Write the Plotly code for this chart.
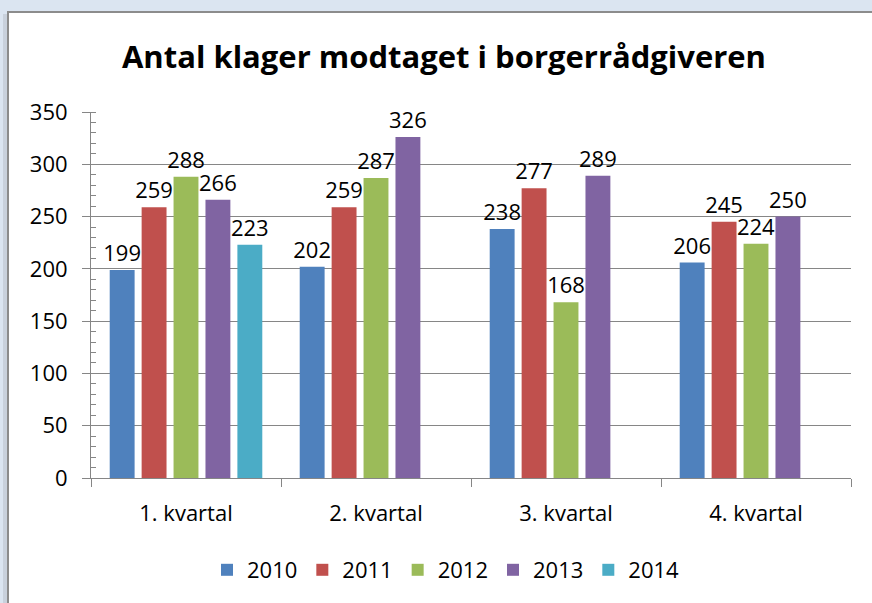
import plotly.graph_objects as go

categories = ["1. kvartal", "2. kvartal", "3. kvartal", "4. kvartal"]
years = ["2010", "2011", "2012", "2013", "2014"]
v2010 = [199, 202, 238, 206]
v2011 = [259, 259, 277, 245]
v2012 = [288, 287, 168, 224]
v2013 = [266, 326, 289, 250]
v2014 = [223, None, None, None]
colors = ["#4f81bd", "#c0504d", "#9bbb59", "#8064a2", "#4bacc6"]

series = [v2010, v2011, v2012, v2013, v2014]
FONT = "Open Sans, sans-serif"

fig = go.Figure()
for name, vals, col in zip(years, series, colors):
    fig.add_trace(go.Bar(
        x=categories, y=vals, name=name, marker=dict(color=col, line=dict(width=0)),
        text=[("" if v is None else str(v)) for v in vals], textposition="outside",
        constraintext="none",
        textfont=dict(size=22, color="black", family=FONT), cliponaxis=False,
    ))

L, R, T, B = 91, 21, 112, 125
W, H = 872, 603
pw, ph = W - L - R, H - T - B

def px(x):
    return (x - L) / pw

def py(y):
    return (H - B - y) / ph

fig.update_layout(
    width=W, height=H,
    margin=dict(l=L, r=R, t=T, b=B),
    paper_bgcolor="#dbe5f1", plot_bgcolor="rgba(0,0,0,0)",
    barmode="group", bargap=0.16, bargroupgap=0.22,
    font=dict(family=FONT, size=22, color="black"),
    title=dict(text="<b>Antal klager modtaget i borgerrådgiveren</b>",
               x=px(444), xref="paper", xanchor="center",
               y=1 - 57 / H, yanchor="middle",
               font=dict(size=31, family=FONT, color="black")),
    showlegend=True,
    legend=dict(orientation="h", x=px(446), xanchor="center", y=py(570), yanchor="middle",
                font=dict(size=22, family=FONT), itemwidth=30, bgcolor="rgba(0,0,0,0)"),
    shapes=[
        dict(type="rect", xref="paper", yref="paper",
             x0=px(3), x1=px(7), y0=py(620), y1=py(14),
             fillcolor="#c9d1dc", line=dict(width=0), layer="below"),
        dict(type="rect", xref="paper", yref="paper",
             x0=px(8), x1=px(890), y0=py(620), y1=py(12),
             fillcolor="white", line=dict(color="#8c8c8c", width=2), layer="below"),
    ],
)

fig.update_yaxes(range=[0, 350], dtick=50, showgrid=True, gridcolor="#868686", gridwidth=1,
                 showline=True, linecolor="#868686", linewidth=1,
                 ticks="outside", ticklen=8, tickcolor="#868686",
                 minor=dict(dtick=10, ticks="inside", ticklen=5, tickcolor="#868686", showgrid=False),
                 tickfont=dict(size=22), ticklabelstandoff=10, zeroline=False)
fig.update_xaxes(showline=True, linecolor="#868686", linewidth=1,
                 ticks="outside", tickson="boundaries", ticklen=8, tickcolor="#868686",
                 tickfont=dict(size=22), ticklabelstandoff=16)

fig.write_html("out.html", config={"displayModeBar": False},
               post_script="document.body.style.margin='0';document.body.style.overflow='hidden';document.body.style.background='#dbe5f1';")
